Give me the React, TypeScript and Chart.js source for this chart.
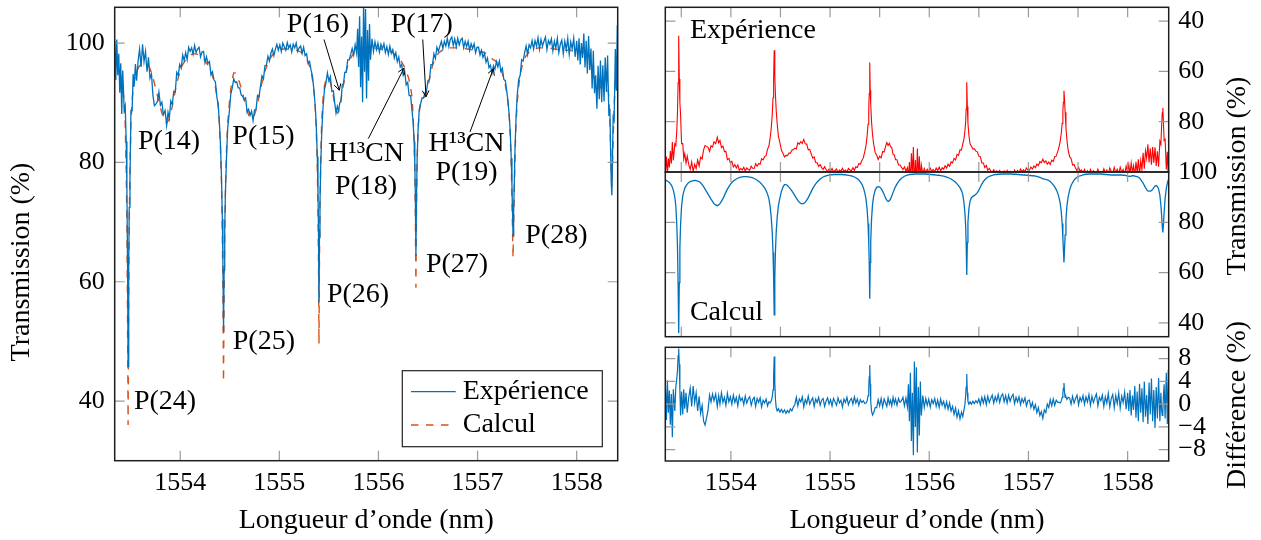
import React, { useEffect, useRef } from "react";
import { Chart, registerables } from "chart.js";

Chart.register(...registerables);

const FONT = "'Liberation Serif', 'Times New Roman', serif";
const BLUE = "#0072BD";
const ORANGE = "#D95319";
const RED = "#FF0000";

// ---------------- DATA ----------------
const wavelength = [
  // left edge, P(24)
  1553.340, 1553.350, 1553.360, 1553.370, 1553.380, 1553.390, 1553.400, 1553.410, 1553.420, 1553.435,
  1553.445, 1553.455, 1553.462, 1553.468, 1553.474, 1553.480, 1553.486, 1553.493, 1553.503, 1553.515,
  // to P(14)
  1553.525, 1553.535, 1553.548, 1553.560, 1553.575, 1553.590, 1553.605, 1553.620, 1553.635, 1553.650,
  1553.665, 1553.680, 1553.695, 1553.710, 1553.725, 1553.740, 1553.755, 1553.770, 1553.785, 1553.800,
  1553.815, 1553.830,
  // P(14) to P(25) wing
  1553.847, 1553.863, 1553.877, 1553.890, 1553.905, 1553.920, 1553.935, 1553.950, 1553.965, 1553.980, 1553.995,
  1554.010, 1554.025, 1554.040, 1554.055, 1554.070, 1554.085, 1554.100, 1554.115, 1554.130, 1554.145,
  1554.160, 1554.175, 1554.190, 1554.205, 1554.220, 1554.235, 1554.250, 1554.265, 1554.280, 1554.295,
  1554.310, 1554.325, 1554.340, 1554.355, 1554.370,
  // P(25)
  1554.383, 1554.395, 1554.407, 1554.417, 1554.425, 1554.431, 1554.437, 1554.443, 1554.449, 1554.457,
  1554.467, 1554.479, 1554.495, 1554.510, 1554.525, 1554.540, 1554.555, 1554.570, 1554.585, 1554.600,
  1554.615, 1554.630, 1554.645,
  // P(15) and plateau
  1554.660, 1554.675, 1554.690, 1554.705, 1554.720, 1554.735, 1554.750, 1554.765, 1554.780, 1554.795,
  1554.810, 1554.825, 1554.840, 1554.855, 1554.870, 1554.885, 1554.900, 1554.915, 1554.930, 1554.945,
  1554.960, 1554.975, 1554.990, 1555.005, 1555.020, 1555.035, 1555.050, 1555.065, 1555.080, 1555.095,
  1555.110, 1555.125, 1555.140, 1555.155, 1555.170, 1555.185, 1555.200, 1555.215, 1555.230, 1555.245,
  1555.260, 1555.275, 1555.290, 1555.305, 1555.320, 1555.335, 1555.350,
  // P(26), P(16)
  1555.362, 1555.373, 1555.383, 1555.390, 1555.395, 1555.400, 1555.405, 1555.410, 1555.418, 1555.428,
  1555.440, 1555.455, 1555.470, 1555.485, 1555.500, 1555.515, 1555.530, 1555.545, 1555.560, 1555.572,
  1555.585, 1555.598, 1555.610, 1555.622, 1555.635, 1555.648, 1555.660, 1555.675, 1555.690, 1555.705,
  1555.720, 1555.735, 1555.750, 1555.765,
  // noisy spikes
  1555.780, 1555.790, 1555.800, 1555.810, 1555.820, 1555.830, 1555.840, 1555.850, 1555.860, 1555.870,
  1555.880, 1555.890, 1555.900, 1555.910, 1555.920, 1555.935,
  // plateau to P(27)
  1555.950, 1555.965, 1555.980, 1555.995, 1556.010, 1556.025, 1556.040, 1556.055, 1556.070, 1556.085,
  1556.100, 1556.115, 1556.130, 1556.145, 1556.160, 1556.175, 1556.190, 1556.205, 1556.220, 1556.235,
  1556.250, 1556.265, 1556.280, 1556.295, 1556.310, 1556.325, 1556.338,
  // P(27), P(17)
  1556.350, 1556.360, 1556.367, 1556.372, 1556.378, 1556.384, 1556.390, 1556.400, 1556.412, 1556.425,
  1556.440, 1556.455, 1556.470, 1556.485,
  // plateau, H13CN P(19)
  1556.500, 1556.515, 1556.530, 1556.545, 1556.560, 1556.575, 1556.590, 1556.605, 1556.620, 1556.635,
  1556.650, 1556.665, 1556.680, 1556.695, 1556.710, 1556.725, 1556.740, 1556.755, 1556.770, 1556.785,
  1556.800, 1556.815, 1556.830, 1556.845, 1556.860, 1556.875, 1556.890, 1556.905, 1556.920, 1556.935,
  1556.950, 1556.965, 1556.980, 1556.995,
  1557.010, 1557.025, 1557.040, 1557.055, 1557.070, 1557.085, 1557.100, 1557.115, 1557.130, 1557.145,
  1557.160, 1557.175, 1557.190, 1557.205, 1557.220, 1557.235, 1557.250, 1557.265, 1557.280, 1557.295,
  // P(28)
  1557.308, 1557.320, 1557.330, 1557.340, 1557.347, 1557.352, 1557.358, 1557.364, 1557.370, 1557.378,
  1557.388, 1557.400,
  // plateau
  1557.415, 1557.430, 1557.445, 1557.460, 1557.475, 1557.490, 1557.505, 1557.520, 1557.535, 1557.550,
  1557.565, 1557.580, 1557.595, 1557.610, 1557.625, 1557.640, 1557.655, 1557.670, 1557.685, 1557.700,
  1557.715, 1557.730, 1557.745, 1557.760, 1557.775, 1557.790, 1557.805, 1557.820, 1557.835, 1557.850,
  1557.865, 1557.880, 1557.895, 1557.910, 1557.925, 1557.940, 1557.955, 1557.970, 1557.985,
  // right end, P(29)
  1558.000, 1558.012, 1558.024, 1558.036, 1558.048, 1558.060, 1558.072, 1558.084, 1558.096, 1558.108,
  1558.120, 1558.132, 1558.144, 1558.156, 1558.168, 1558.180, 1558.192, 1558.204, 1558.216, 1558.228,
  1558.240, 1558.252, 1558.264, 1558.276, 1558.288, 1558.300, 1558.312,
  1558.325, 1558.335, 1558.343, 1558.349, 1558.355, 1558.361, 1558.368, 1558.378, 1558.390, 1558.400, 1558.410,
];

const calcul = [
  96.8, 96.6, 96.4, 96.1, 95.8, 95.3, 94.8, 93.9, 92.8, 90.0,
  86.5, 79.0, 70.0, 56.0, 36.0, 56.0, 70.0, 79.0, 86.5, 90.5,
  92.2, 93.5, 94.5, 95.2, 95.8, 96.2, 96.4, 96.6, 96.7, 96.6,
  96.4, 96.2, 95.7, 95.0, 94.2, 93.2, 92.2, 91.2, 90.2, 89.2,
  88.3, 87.4,
  86.9, 86.6, 86.9, 87.4, 88.3, 89.4, 90.7, 92.0, 93.2, 94.2, 95.1,
  95.8, 96.4, 96.8, 97.2, 97.5, 97.8, 98.0, 98.1, 98.2, 98.2,
  98.2, 98.1, 98.0, 97.9, 97.7, 97.4, 97.1, 96.7, 96.3, 95.8,
  95.2, 94.5, 93.7, 92.6, 91.2,
  89.4, 86.5, 82.0, 76.0, 68.0, 58.0, 43.2, 58.0, 68.0, 76.0,
  82.0, 86.5, 89.8, 92.3, 94.0, 95.0, 95.0, 94.6, 94.0, 93.3,
  92.5, 91.6, 90.6,
  89.6, 88.7, 88.0, 87.5, 87.3, 87.5, 88.0, 88.8, 89.8, 91.0,
  92.2, 93.4, 94.4, 95.3, 96.0, 96.6, 97.2, 97.6, 98.0, 98.3,
  98.5, 98.7, 98.8, 98.9, 98.9, 99.0, 99.0, 99.0, 99.0, 99.0,
  99.0, 99.0, 98.9, 98.9, 98.8, 98.7, 98.6, 98.5, 98.3, 98.0,
  97.7, 97.3, 96.8, 96.1, 95.2, 93.8, 91.8,
  89.3, 85.5, 79.5, 72.0, 64.0, 49.6, 64.0, 72.5, 81.0, 87.0,
  90.5, 92.8, 93.9, 94.2, 94.0, 93.4, 92.4, 91.1, 89.6, 88.7,
  88.3, 88.6, 89.3, 90.5, 91.8, 93.1, 94.2, 95.3, 96.2, 96.9,
  97.5, 97.9, 98.3, 98.6,
  98.8, 98.9, 99.0, 99.0, 99.1, 99.1, 99.1, 99.2, 99.2, 99.2,
  99.2, 99.2, 99.2, 99.2, 99.2, 99.2,
  99.2, 99.2, 99.1, 99.1, 99.0, 99.0, 98.9, 98.9, 98.8, 98.7,
  98.7, 98.6, 98.5, 98.4, 98.2, 98.0, 97.8, 97.5, 97.2, 96.8,
  96.4, 95.9, 95.3, 94.6, 93.8, 92.6, 91.0,
  87.8, 83.5, 78.5, 72.0, 59.0, 72.0, 80.0, 85.5, 88.5, 89.8,
  90.3, 90.7, 91.1, 91.8,
  92.8, 94.0, 95.2, 96.2, 96.9, 97.5, 97.9, 98.3, 98.5, 98.7,
  98.9, 99.0, 99.0, 99.1, 99.1, 99.2, 99.2, 99.2, 99.2, 99.2,
  99.2, 99.2, 99.2, 99.1, 99.1, 99.1, 99.0, 99.0, 98.9, 98.9,
  98.8, 98.8, 98.7, 98.7,
  98.6, 98.6, 98.5, 98.5, 98.4, 98.3, 98.1, 97.9, 97.6, 97.4,
  97.2, 97.1, 96.9, 96.6, 96.2, 95.6, 94.9, 94.1, 93.0, 91.6,
  89.8, 87.6, 84.5, 79.5, 74.0, 69.5, 64.0, 69.5, 75.0, 81.0,
  86.5, 90.0,
  92.8, 94.6, 95.8, 96.8, 97.4, 97.9, 98.2, 98.5, 98.7, 98.9,
  99.0, 99.1, 99.1, 99.2, 99.2, 99.2, 99.2, 99.2, 99.2, 99.2,
  99.2, 99.2, 99.1, 99.1, 99.0, 99.0, 98.9, 98.9, 98.8, 98.8,
  98.8, 98.8, 98.8, 98.8, 98.8, 98.8, 98.7, 98.7, 98.6,
  98.4, 98.3, 98.3, 98.4, 98.5, 98.5, 98.4, 98.3, 98.2, 97.9,
  97.6, 97.0, 96.3, 95.6, 94.7, 93.8, 93.0, 92.5, 92.4, 92.4,
  92.6, 93.1, 93.8, 94.4, 94.6, 94.3, 93.3,
  90.8, 87.0, 82.5, 78.5, 76.0, 79.0, 84.0, 89.5, 93.5, 95.5, 97.0,
];

const experience = [
  100.3, 93.8, 100.6, 94.6, 98.2, 91.7, 96.6, 88.1, 95.4, 88.8,
  89.5, 83.5, 76.0, 64.5, 45.8, 63.0, 72.5, 77.0, 88.7, 88.7,
  94.8, 92.7, 96.5, 93.7, 97.0, 99.0, 96.0, 99.8, 96.9, 98.6,
  95.2, 97.6, 94.1, 94.8, 91.2, 89.5, 89.8, 90.2, 91.8, 89.6,
  90.1, 88.0,
  88.7, 86.2, 88.4, 87.4, 90.3, 89.7, 91.9, 91.8, 95.1, 94.6, 96.4,
  95.8, 98.0, 97.1, 98.4, 97.2, 99.3, 98.6, 99.2, 98.1, 99.6,
  98.4, 99.0, 99.3, 97.7, 98.5, 98.6, 96.7, 97.7, 96.6, 96.9,
  94.7, 95.2, 93.9, 93.5, 90.9,
  89.8, 86.7, 82.6, 77.2, 70.5, 63.0, 51.6, 62.0, 69.0, 75.4,
  80.8, 85.7, 88.4, 91.4, 92.5, 94.0, 93.4, 93.5, 92.5, 92.5,
  91.3, 91.1, 90.5,
  90.8, 88.4, 88.9, 87.9, 88.6, 87.0, 88.8, 88.9, 91.2, 91.0,
  92.8, 94.5, 94.0, 96.2, 96.3, 97.8, 97.0, 98.3, 99.0, 97.9,
  99.0, 99.8, 98.8, 99.7, 98.6, 100.0, 99.4, 98.8, 100.1, 99.2,
  99.7, 98.5, 99.8, 99.2, 100.0, 98.6, 99.2, 99.5, 98.3, 99.3,
  97.9, 98.2, 96.6, 96.9, 95.5, 94.4, 91.9,
  89.5, 86.0, 81.0, 75.0, 68.8, 56.5, 67.5, 73.0, 79.8, 85.1,
  89.0, 92.2, 93.3, 95.0, 93.7, 94.4, 91.9, 92.0, 89.8, 88.3,
  89.4, 88.6, 90.0, 90.2, 93.0, 93.2, 95.1, 95.1, 97.2, 97.2,
  98.1, 99.1, 98.0, 99.7,
  98.3, 102.4, 96.0, 104.5, 92.6, 101.1, 90.1, 106.7, 95.2, 105.7,
  90.7, 102.2, 93.7, 103.2, 97.2, 100.7,
  98.6, 100.2, 98.9, 100.0, 98.5, 99.8, 99.0, 99.9, 98.4, 99.4,
  98.1, 99.5, 98.3, 98.9, 97.5, 98.4, 96.9, 97.7, 96.0, 96.4,
  94.6, 95.2, 93.0, 93.4, 91.2, 91.2, 88.8,
  86.8, 83.5, 80.0, 75.0, 64.3, 74.0, 80.5, 85.5, 88.9, 89.8,
  90.8, 90.8, 91.7, 92.0,
  93.7, 93.9, 96.4, 96.4, 98.2, 97.4, 99.3, 98.6, 99.5, 100.3,
  99.1, 100.3, 99.5, 100.8, 99.4, 100.6, 101.0, 99.6, 100.7, 99.4,
  100.8, 99.7, 100.5, 100.8, 99.2, 100.3, 99.4, 100.3, 98.8, 99.9,
  99.1, 99.9, 98.4, 99.3,
  99.3, 98.0, 98.8, 97.6, 98.3, 96.8, 97.5, 95.9, 96.3, 94.9,
  96.2, 95.6, 96.9, 96.0, 97.0, 95.3, 95.8, 93.9, 93.7, 91.9,
  90.1, 87.8, 85.0, 80.7, 76.0, 72.3, 67.7, 71.5, 76.2, 82.3,
  87.3, 91.2,
  93.9, 94.6, 97.2, 97.0, 98.4, 99.5, 98.1, 99.7, 99.2, 100.4,
  99.0, 100.4, 99.5, 100.9, 99.0, 100.6, 99.5, 100.3, 101.0, 98.9,
  100.4, 99.8, 100.7, 98.7, 100.3, 99.2, 100.8, 98.4, 99.8, 100.5,
  98.2, 100.3, 98.9, 100.8, 98.1, 100.2, 99.0, 100.8, 97.7,
  100.4, 97.1, 100.8, 96.4, 100.0, 97.5, 101.6, 95.9, 100.4, 94.9,
  101.2, 95.5, 99.1, 92.4, 98.7, 91.6, 94.6, 89.0, 96.2, 90.6,
  97.1, 90.1, 96.3, 90.2, 97.6, 91.8, 97.9,
  87.8, 89.0, 81.5, 76.5, 74.5, 80.5, 87.5, 87.0, 99.0, 92.0, 103.0,
];

const difference = [
  3.5, -2.8, 4.2, -1.5, 2.4, -3.6, 1.8, -5.8, 2.6, -1.2,
  3.0, 4.5, 6.0, 8.5, 9.8, 7.0, 2.5, -2.0, 2.2, -1.8,
  2.6, -0.8, 2.0, -1.5, 1.2, 2.8, -0.4, 3.2, 0.2, 2.0,
  -1.2, 1.4, -1.6, -0.2, -3.0, -3.7, -2.4, -1.0, 1.6, 0.4,
  1.8, 0.6,
  1.8, -0.4, 1.5, 0.0, 2.0, 0.3, 1.2, -0.2, 1.9, 0.4, 1.3,
  0.0, 1.6, 0.3, 1.2, -0.3, 1.5, 0.6, 1.1, -0.1, 1.4,
  0.2, 0.9, 1.3, -0.2, 0.8, 1.2, -0.4, 1.0, 0.3, 1.1,
  -0.5, 0.7, 0.2, 0.9, -0.3,
  0.4, 0.2, 0.6, 1.2, 2.5, 5.0, 8.4, 4.0, 1.0, -0.6,
  -1.2, -0.8, -1.4, -0.9, -1.5, -1.0, -1.6, -1.1, -1.5, -0.8,
  -1.2, -0.5, -0.1,
  1.2, -0.3, 0.9, 0.4, 1.3, -0.5, 0.8, 0.1, 1.4, 0.0,
  0.6, 1.1, -0.4, 0.9, 0.3, 1.2, -0.2, 0.7, 1.0, -0.4,
  0.5, 1.1, 0.0, 0.8, -0.3, 1.0, 0.4, -0.2, 1.1, 0.2,
  0.7, -0.5, 0.9, 0.3, 1.2, -0.1, 0.6, 1.0, 0.0, 1.3,
  0.2, 0.9, -0.2, 0.8, 0.3, 0.6, 0.1,
  0.2, 0.5, 1.5, 3.0, 4.8, 6.9, 3.5, 0.5, -1.2, -1.9,
  -1.5, -0.6, -0.6, 0.8, -0.3, 1.0, -0.5, 0.9, 0.2, -0.4,
  1.1, 0.0, 0.7, -0.3, 1.2, 0.1, 0.9, -0.2, 1.0, 0.3,
  0.6, 1.2, -0.3, 1.1,
  -0.5, 3.5, -3.0, 5.5, -6.5, 2.0, -9.0, 7.5, -4.0, 6.5,
  -8.5, 3.0, -5.5, 4.0, -2.0, 1.5,
  -0.6, 1.0, -0.2, 0.9, -0.5, 0.8, 0.1, 1.0, -0.4, 0.7,
  -0.6, 0.9, -0.2, 0.5, -0.7, 0.4, -0.9, 0.2, -1.2, -0.4,
  -1.8, -0.7, -2.3, -1.2, -2.6, -1.4, -2.2,
  -1.0, 0.0, 1.5, 3.0, 5.3, 2.0, 0.5, 0.0, 0.4, 0.0,
  0.5, 0.1, 0.6, 0.2,
  0.9, -0.1, 1.2, 0.2, 1.3, -0.1, 1.4, 0.3, 1.0, 1.6,
  0.2, 1.3, 0.5, 1.7, 0.3, 1.4, 1.8, 0.4, 1.5, 0.2,
  1.6, 0.5, 1.3, 1.7, 0.1, 1.2, 0.4, 1.3, -0.1, 1.0,
  0.3, 1.1, -0.3, 0.6,
  0.7, -0.6, 0.3, -0.9, -0.1, -1.5, -0.6, -2.0, -1.3, -2.5,
  -1.0, -1.5, 0.0, -0.6, 0.8, -0.3, 0.9, -0.2, 0.7, 0.3,
  0.3, 0.2, 0.5, 1.2, 2.0, 2.8, 3.7, 2.0, 1.2, 1.3,
  0.8, 1.2,
  1.1, 0.0, 1.4, 0.2, 1.0, 1.6, -0.1, 1.2, 0.5, 1.5,
  0.0, 1.3, 0.4, 1.7, -0.2, 1.4, 0.3, 1.1, 1.8, -0.3,
  1.2, 0.6, 1.6, -0.4, 1.3, 0.2, 1.9, -0.5, 1.0, 1.7,
  -0.6, 1.5, 0.1, 2.0, -0.7, 1.4, 0.3, 2.1, -0.9,
  2.0, -1.2, 2.5, -2.0, 1.5, -1.0, 3.2, -2.4, 2.2, -3.0,
  3.6, -1.5, 2.8, -3.2, 4.0, -2.2, 1.6, -3.5, 3.8, -1.8,
  4.5, -3.0, 2.5, -4.2, 3.0, -2.5, 4.6,
  -3.0, 2.0, -1.0, -2.0, -1.5, 1.5, 3.5, -2.5, 5.5, -3.5, 6.0,
];

// tick values
const xTickLabels = [1554, 1555, 1556, 1557, 1558];
const xTickHalf = [1553.5, 1554, 1554.5, 1555, 1555.5, 1556, 1556.5, 1557, 1557.5, 1558];
const transTicks = [40, 60, 80, 100];
const transTicksCalc = [40, 60, 80];
const diffTicks = [-8, -4, 0, 4, 8];

// line labels (data coordinates)
const lineLabels = [
  { text: "P(14)", x: 1553.887, y: 83.5 },
  { text: "P(15)", x: 1554.84, y: 84.4 },
  { text: "P(16)", x: 1555.39, y: 103.1 },
  { text: "P(17)", x: 1556.437, y: 103.1 },
  { text: "H¹³CN", x: 1555.875, y: 81.5 },
  { text: "P(18)", x: 1555.875, y: 76.0 },
  { text: "H¹³CN", x: 1556.889, y: 83.2 },
  { text: "P(19)", x: 1556.889, y: 78.3 },
  { text: "P(24)", x: 1553.847, y: 39.9 },
  { text: "P(25)", x: 1554.844, y: 49.9 },
  { text: "P(26)", x: 1555.794, y: 57.9 },
  { text: "P(27)", x: 1556.793, y: 62.9 },
  { text: "P(28)", x: 1557.795, y: 67.8 },
];
const labelArrows = [
  { x1: 1555.451, y1: 100.6, x2: 1555.605, y2: 92.1 },
  { x1: 1556.447, y1: 100.6, x2: 1556.48, y2: 91.0 },
  { x1: 1555.898, y1: 84.0, x2: 1556.258, y2: 95.8 },
  { x1: 1556.924, y1: 85.1, x2: 1557.159, y2: 95.7 },
];

// ---------------- helpers ----------------
const X_MIN = 1553.339;
const X_MAX = 1558.414;
const FS = 26; // tick labels
const TS = 28; // texts, titles, legend

const pts = (ys: number[]) => wavelength.map((x, i) => ({ x, y: ys[i] }));

function zeroPad(s: any) {
  s.paddingLeft = 0;
  s.paddingRight = 0;
  s.paddingTop = 0;
  s.paddingBottom = 0;
}

function makeX(tickValues: number[], showLabels: boolean, height: number) {
  return {
    type: "linear",
    position: "bottom",
    min: X_MIN,
    max: X_MAX,
    afterBuildTicks: (s: any) => {
      s.ticks = tickValues.map((v) => ({ value: v }));
    },
    afterFit: (s: any) => {
      s.height = height;
      zeroPad(s);
    },
    grid: { display: false, drawTicks: false },
    border: { display: false },
    ticks: {
      display: showLabels,
      autoSkip: false,
      maxRotation: 0,
      minRotation: 0,
      padding: 7,
      color: "#000",
      font: { family: FONT, size: FS },
      callback: (v: any) => String(v),
    },
  };
}

function makeY(position: string, min: number, max: number, reverse: boolean, tickValues: number[], width: number, padding: number) {
  return {
    type: "linear",
    position,
    min,
    max,
    reverse,
    afterBuildTicks: (s: any) => {
      s.ticks = tickValues.map((v) => ({ value: v }));
    },
    afterFit: (s: any) => {
      s.width = width;
      zeroPad(s);
    },
    grid: { display: false, drawTicks: false },
    border: { display: false },
    ticks: {
      autoSkip: false,
      padding,
      color: "#000",
      font: { family: FONT, size: FS },
      callback: (v: any) => (v < 0 ? "\u2212" + Math.abs(v) : String(v)),
    },
  };
}

type Deco = {
  xTicks: number[];
  yTicks: number[];
  texts?: { text: string; x: number; y: number; align?: string }[];
  arrows?: { x1: number; y1: number; x2: number; y2: number }[];
  titles?: { text: string; px: number; py: number; rot?: number }[];
  legend?: boolean;
};

function decoPlugin(d: Deco) {
  return {
    id: "deco",
    afterDatasetsDraw(chart: any) {
      const { ctx, chartArea: a, scales } = chart;
      const xs = scales.x;
      const ys = scales.y;
      ctx.save();
      // inward ticks on all four sides
      const TL = 10;
      ctx.strokeStyle = "#9a9a9a";
      ctx.lineWidth = 1.2;
      ctx.beginPath();
      d.xTicks.forEach((v) => {
        const p = xs.getPixelForValue(v);
        ctx.moveTo(p, a.top);
        ctx.lineTo(p, a.top + TL);
        ctx.moveTo(p, a.bottom);
        ctx.lineTo(p, a.bottom - TL);
      });
      d.yTicks.forEach((v) => {
        const p = ys.getPixelForValue(v);
        ctx.moveTo(a.left, p);
        ctx.lineTo(a.left + TL, p);
        ctx.moveTo(a.right, p);
        ctx.lineTo(a.right - TL, p);
      });
      ctx.stroke();
      // frame
      ctx.strokeStyle = "#1e1e1e";
      ctx.lineWidth = 1.5;
      ctx.strokeRect(a.left, a.top, a.right - a.left, a.bottom - a.top);
      // texts
      ctx.fillStyle = "#000";
      ctx.font = `${TS}px ${FONT}`;
      ctx.textBaseline = "middle";
      (d.texts || []).forEach((t) => {
        ctx.textAlign = (t.align || "center") as CanvasTextAlign;
        ctx.fillText(t.text, xs.getPixelForValue(t.x), ys.getPixelForValue(t.y));
      });
      // arrows
      ctx.strokeStyle = "#000";
      ctx.lineWidth = 1;
      (d.arrows || []).forEach((ar) => {
        const x1 = xs.getPixelForValue(ar.x1);
        const y1 = ys.getPixelForValue(ar.y1);
        const x2 = xs.getPixelForValue(ar.x2);
        const y2 = ys.getPixelForValue(ar.y2);
        const ang = Math.atan2(y2 - y1, x2 - x1);
        const h = 7;
        ctx.beginPath();
        ctx.moveTo(x1, y1);
        ctx.lineTo(x2, y2);
        ctx.moveTo(x2 - h * Math.cos(ang - 0.5), y2 - h * Math.sin(ang - 0.5));
        ctx.lineTo(x2, y2);
        ctx.lineTo(x2 - h * Math.cos(ang + 0.5), y2 - h * Math.sin(ang + 0.5));
        ctx.stroke();
      });
      // axis titles
      (d.titles || []).forEach((t) => {
        ctx.save();
        ctx.translate(t.px, t.py);
        if (t.rot) ctx.rotate(t.rot);
        ctx.textAlign = "center";
        ctx.textBaseline = "middle";
        ctx.fillStyle = "#000";
        ctx.fillText(t.text, 0, 0);
        ctx.restore();
      });
      // legend
      if (d.legend) {
        const w = 200;
        const h = 76;
        const bx = a.right - 15.4 - w;
        const by = a.bottom - 14 - h;
        ctx.fillStyle = "#fff";
        ctx.fillRect(bx, by, w, h);
        ctx.strokeStyle = "#222";
        ctx.lineWidth = 1.2;
        ctx.strokeRect(bx, by, w, h);
        chart.data.datasets.forEach((ds: any, i: number) => {
          const yy = by + 21 + i * 33.3;
          ctx.strokeStyle = ds.borderColor;
          ctx.lineWidth = ds.borderWidth;
          ctx.setLineDash(ds.borderDash || []);
          ctx.beginPath();
          ctx.moveTo(bx + 8.7, yy);
          ctx.lineTo(bx + 53.4, yy);
          ctx.stroke();
          ctx.setLineDash([]);
          ctx.fillStyle = "#000";
          ctx.textAlign = "left";
          ctx.textBaseline = "middle";
          ctx.fillText(ds.label, bx + 60.4, yy);
        });
      }
      ctx.restore();
    },
  };
}

function baseOptions(padding: any, scales: any) {
  return {
    responsive: false,
    animation: false,
    devicePixelRatio: 1,
    events: [],
    layout: { padding },
    plugins: { legend: { display: false }, tooltip: { enabled: false } },
    elements: { point: { radius: 0 }, line: { tension: 0 } },
    scales,
  };
}

// ---------------- chart configs ----------------
const leftConfig = () => ({
  type: "line",
  data: {
    datasets: [
      { label: "Expérience", data: pts(experience), borderColor: BLUE, borderWidth: 1.3, pointRadius: 0, fill: false },
      { label: "Calcul", data: pts(calcul), borderColor: ORANGE, borderWidth: 1.4, borderDash: [7.5, 7.5], pointRadius: 0, fill: false },
    ],
  },
  options: baseOptions(
    { left: 0, top: 7.3, right: 22.3, bottom: 0 },
    { x: makeX(xTickLabels, true, 79.3), y: makeY("left", 30, 106, false, transTicks, 114.7, 10) }
  ),
  plugins: [
    decoPlugin({
      xTicks: xTickLabels,
      yTicks: transTicks,
      texts: lineLabels,
      arrows: labelArrows,
      legend: true,
      titles: [
        { text: "Transmission (%)", px: 22, py: 262, rot: -Math.PI / 2 },
        { text: "Longueur d’onde (nm)", px: 366.2, py: 521 },
      ],
    }),
  ],
});

const RIGHT_LEFT_PAD = 25.3;
const RIGHT_AXIS_W = 92.3;

const topConfig = () => ({
  type: "line",
  data: {
    datasets: [{ label: "Expérience", data: pts(experience), borderColor: RED, borderWidth: 1.1, pointRadius: 0, fill: false }],
  },
  options: baseOptions(
    { left: RIGHT_LEFT_PAD, top: 7.3, right: 0, bottom: 0 },
    { x: makeX(xTickHalf, false, 368), y: makeY("right", 34.5, 100, true, transTicks, RIGHT_AXIS_W, 9.6) }
  ),
  plugins: [
    decoPlugin({
      xTicks: xTickHalf,
      yTicks: [40, 60, 80],
      texts: [{ text: "Expérience", x: 1553.587, y: 43.9, align: "left" }],
      titles: [{ text: "Transmission (%)", px: 598, py: 176, rot: -Math.PI / 2 }],
    }),
  ],
});

const midConfig = () => ({
  type: "line",
  data: {
    datasets: [{ label: "Calcul", data: pts(calcul), borderColor: BLUE, borderWidth: 1.3, pointRadius: 0, fill: false }],
  },
  options: baseOptions(
    { left: RIGHT_LEFT_PAD, top: 172, right: 0, bottom: 0 },
    { x: makeX(xTickHalf, false, 203.3), y: makeY("right", 34.5, 100, false, transTicksCalc, RIGHT_AXIS_W, 9.6) }
  ),
  plugins: [
    decoPlugin({
      xTicks: xTickHalf,
      yTicks: transTicksCalc,
      texts: [{ text: "Calcul", x: 1553.587, y: 44.1, align: "left" }],
    }),
  ],
});

const diffConfig = () => ({
  type: "line",
  data: {
    datasets: [{ label: "Différence", data: pts(difference), borderColor: BLUE, borderWidth: 1.2, pointRadius: 0, fill: false }],
  },
  options: baseOptions(
    { left: RIGHT_LEFT_PAD, top: 347.3, right: 0, bottom: 0 },
    { x: makeX(xTickLabels, true, 79), y: makeY("right", -10, 10, false, diffTicks, RIGHT_AXIS_W, 9.6) }
  ),
  plugins: [
    decoPlugin({
      xTicks: xTickLabels,
      yTicks: diffTicks,
      titles: [
        { text: "Différence (%)", px: 598, py: 405, rot: -Math.PI / 2 },
        { text: "Longueur d’onde (nm)", px: 277, py: 521 },
      ],
    }),
  ],
});

function ChartCanvas({ x, y, w, h, config }: { x: number; y: number; w: number; h: number; config: () => any }) {
  const ref = useRef<HTMLCanvasElement>(null);
  useEffect(() => {
    const chart = new Chart(ref.current as HTMLCanvasElement, config());
    return () => chart.destroy();
  }, []);
  return (
    <canvas
      ref={ref}
      width={w}
      height={h}
      style={{ position: "absolute", left: x, top: y, width: w, height: h, display: "block" }}
    />
  );
}

export default function App() {
  return (
    <div style={{ position: "absolute", left: 0, top: 0, width: 1261, height: 540, background: "#fff", overflow: "hidden" }}>
      <ChartCanvas x={0} y={0} w={640} h={540} config={leftConfig} />
      <ChartCanvas x={640} y={0} w={621} h={540} config={topConfig} />
      <ChartCanvas x={640} y={0} w={621} h={540} config={midConfig} />
      <ChartCanvas x={640} y={0} w={621} h={540} config={diffConfig} />
    </div>
  );
}
